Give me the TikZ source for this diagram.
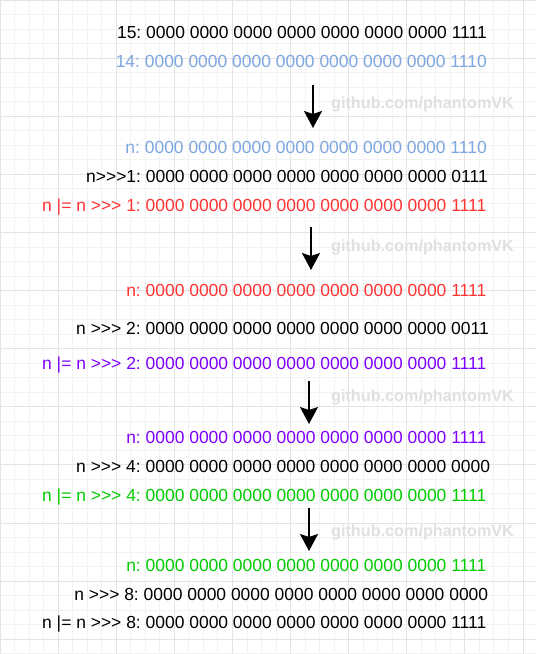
\documentclass[tikz,border=0pt]{standalone}
\usepackage{fontspec}
\setmainfont[Ligatures=TeXOff]{Liberation Sans}
\usetikzlibrary{arrows.meta}
\frenchspacing

\definecolor{bitblue}{HTML}{7EA6E0}
\definecolor{bitred}{HTML}{FF3333}
\definecolor{bitpurple}{HTML}{7F00FF}
\definecolor{bitgreen}{HTML}{00CC00}
\definecolor{gridminor}{HTML}{F2F2F2}
\definecolor{gridmajor}{HTML}{E4E4E4}
\definecolor{wmgray}{HTML}{E0E0E0}

\newcommand{\zerobits}{0000 0000 0000 0000 0000 0000 0000}

\begin{document}
\begin{tikzpicture}[x=1pt, y=-1pt, >={Stealth[length=17pt, width=18pt, inset=3pt]}]

	% Define styles
	\tikzstyle{bits} = [anchor=base east, inner sep=0pt, font=\fontsize{17.45}{20}\selectfont]
	\tikzstyle{wm} = [anchor=base west, inner sep=0pt, text=wmgray, font=\bfseries\fontsize{16.2}{19}\selectfont]
	\tikzstyle{shiftarrow} = [->, line width=2pt]

	\useasboundingbox (0,0) rectangle (536,654);
	\fill[white] (0,0) rectangle (536,654);

	% Grid
	\foreach \i in {0,...,45} {
		\draw[gridminor, line width=0.8pt] (0,\i*14.525) -- (536,\i*14.525);
	}
	\foreach \i in {0,...,36} {
		\draw[gridminor, line width=0.8pt] (\i*14.525,0) -- (\i*14.525,654);
	}
	\foreach \i in {0,...,11} {
		\draw[gridmajor, line width=0.8pt] (0,\i*58.1) -- (536,\i*58.1);
	}
	\foreach \i in {0,...,9} {
		\draw[gridmajor, line width=0.8pt] (\i*58.1,0) -- (\i*58.1,654);
	}

	% Watermarks
	\node[wm] (wm1) at (331,108.5) {github.com/phantomVK};
	\node[wm] (wm2) at (331,251.5) {github.com/phantomVK};
	\node[wm] (wm3) at (331,401) {github.com/phantomVK};
	\node[wm] (wm4) at (331,536) {github.com/phantomVK};

	% Step 0
	\node[bits] (v15) at (487,38.5) {15: \zerobits\ 1111};
	\node[bits, text=bitblue] (v14) at (487,67.2) {14: \zerobits\ 1110};

	% Step 1
	\node[bits, text=bitblue] (n1) at (487,153.9) {n: \zerobits\ 1110};
	\node[bits] (s1) at (488,182.9) {n>>>1: \zerobits\ 0111};
	\node[bits, text=bitred] (or1) at (486.5,211.9) {n |= n >>> 1: \zerobits\ 1111};

	% Step 2
	\node[bits, text=bitred] (n2) at (486.5,296.2) {n: \zerobits\ 1111};
	\node[bits] (s2) at (489,334.2) {n >>> 2: \zerobits\ 0011};
	\node[bits, text=bitpurple] (or2) at (486.5,369.7) {n |= n >>> 2: \zerobits\ 1111};

	% Step 3
	\node[bits, text=bitpurple] (n3) at (486.5,443.2) {n: \zerobits\ 1111};
	\node[bits] (s3) at (490.3,472.7) {n >>> 4: \zerobits\ 0000};
	\node[bits, text=bitgreen] (or3) at (486.5,501.2) {n |= n >>> 4: \zerobits\ 1111};

	% Step 4
	\node[bits, text=bitgreen] (n4) at (486.5,571.2) {n: \zerobits\ 1111};
	\node[bits] (s4) at (488.4,600.2) {n >>> 8: \zerobits\ 0000};
	\node[bits] (or4) at (486.5,628.7) {n |= n >>> 8: \zerobits\ 1111};

	% Arrows
	\coordinate (a1) at (313,85);
	\coordinate (b1) at (313,128);
	\coordinate (a2) at (311,227);
	\coordinate (b2) at (311,270);
	\coordinate (a3) at (309,381);
	\coordinate (b3) at (309,424);
	\coordinate (a4) at (309,508);
	\coordinate (b4) at (309,551);
	\draw[shiftarrow] (a1) -- (b1);
	\draw[shiftarrow] (a2) -- (b2);
	\draw[shiftarrow] (a3) -- (b3);
	\draw[shiftarrow] (a4) -- (b4);

\end{tikzpicture}
\end{document}
